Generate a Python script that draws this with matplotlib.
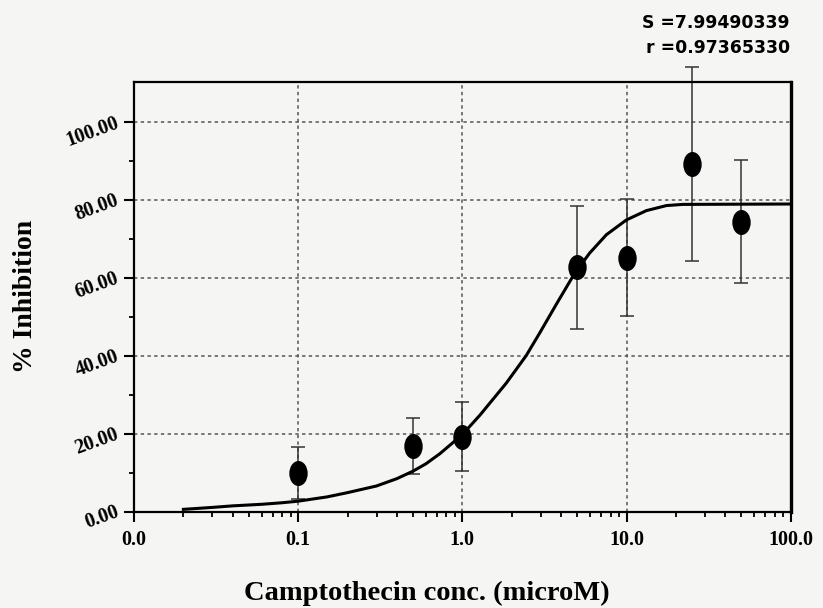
import matplotlib
matplotlib.use("Agg")
import matplotlib.pyplot as plt
from matplotlib.path import Path
from matplotlib.transforms import Affine2D
from matplotlib.ticker import FixedLocator, LogLocator, NullFormatter

# measured points
conc = [0.1, 0.5, 1.0, 5.0, 10.0, 25.0, 50.0]
inhibition = [9.9, 16.9, 19.3, 62.8, 65.2, 89.3, 74.5]
sd = [6.6, 7.1, 8.8, 15.8, 15.0, 25.0, 15.8]

# fitted curve
curve_x = [0.02, 0.03, 0.04, 0.06, 0.08, 0.1, 0.15, 0.2, 0.3, 0.4, 0.5, 0.6,
           0.73, 1.0, 1.28, 1.85, 2.45, 2.96, 3.74, 4.83, 5.96, 7.53, 9.97,
           13.2, 17.5, 22.0, 100.0]
curve_y = [0.6, 1.1, 1.5, 1.9, 2.3, 2.7, 3.8, 4.9, 6.6, 8.5, 10.4, 12.3,
           14.9, 19.8, 24.8, 33.0, 40.1, 45.9, 53.3, 61.2, 66.4, 71.1, 74.9,
           77.3, 78.6, 78.9, 79.0]

x_ticks = [0.01, 0.1, 1.0, 10.0, 100.0]
x_labels = ["0.0", "0.1", "1.0", "10.0", "100.0"]
y_ticks = [0, 20, 40, 60, 80, 100]
y_labels = ["0.00", "20.00", "40.00", "60.00", "80.00", "100.00"]
stats = ["S =7.99490339", "r =0.97365330"]

bg = "#f5f5f3"
serif = ["Liberation Serif", "DejaVu Serif"]

fig = plt.figure(figsize=(8.23, 6.08), dpi=100, facecolor=bg)
ax = fig.add_axes([0.1628, 0.1584, 0.7980, 0.7072], facecolor=bg)

ax.plot(curve_x, curve_y, color="black", linewidth=2.2, zorder=3,
        solid_joinstyle="round")

ellipse = Path.unit_circle().transformed(Affine2D().scale(0.72, 1.0))
ax.errorbar(conc, inhibition, yerr=sd, fmt="none", ecolor="#333333",
            elinewidth=1.1, capsize=4.8, capthick=1.1, zorder=2, clip_on=False)
ax.plot(conc, inhibition, linestyle="none", marker=ellipse, markersize=17,
        color="black", zorder=4, clip_on=False)

ax.set_xscale("log")
ax.set_xlim(0.01, 100)
ax.set_ylim(0, 110.4)

ax.xaxis.set_major_locator(FixedLocator(x_ticks))
ax.set_xticklabels(x_labels)
ax.xaxis.set_minor_locator(LogLocator(base=10, subs=range(2, 10)))
ax.xaxis.set_minor_formatter(NullFormatter())
ax.yaxis.set_major_locator(FixedLocator(y_ticks))
ax.set_yticklabels(y_labels)
ax.yaxis.set_minor_locator(FixedLocator([10, 30, 50, 70, 90]))

ax.tick_params(axis="both", which="major", direction="out", length=7.5, width=1.5,
               color="black")
ax.tick_params(axis="both", which="minor", direction="out", length=3.5, width=1.3,
               color="black")
ax.tick_params(axis="x", which="major", pad=6)
ax.tick_params(axis="y", which="major", pad=4)

for lab in ax.get_xticklabels():
    lab.set_fontfamily(serif)
    lab.set_fontweight("bold")
    lab.set_fontsize(14.5)
for lab in ax.get_yticklabels():
    lab.set_fontfamily(serif)
    lab.set_fontweight("bold")
    lab.set_fontsize(14.5)
    lab.set_rotation(20)
    lab.set_rotation_mode("anchor")
    lab.set_ha("right")
    lab.set_va("center")

ax.grid(True, which="major", linestyle=(0, (2.2, 2.2)), linewidth=1.1, color="#555555")

for side in ["left", "bottom", "top"]:
    ax.spines[side].set_linewidth(1.6)
ax.spines["right"].set_linewidth(2.4)

fig.text(0.0304, 0.512, "% Inhibition", rotation=90, ha="center", va="center",
         fontsize=20, fontweight="bold", family=serif)
fig.text(427 / 823, 1 - 593 / 608, "Camptothecin conc. (microM)", ha="center",
         va="center", fontsize=20.5, fontweight="bold", family=serif)

sans = ["DejaVu Sans"]
fig.text(790 / 823, 1 - 23 / 608, stats[0], ha="right", va="center", fontsize=12.4,
         fontweight="bold", family=sans)
fig.text(790 / 823, 1 - 48 / 608, stats[1], ha="right", va="center", fontsize=12.4,
         fontweight="bold", family=sans)

fig.savefig("out.png", dpi=100, facecolor=bg)
